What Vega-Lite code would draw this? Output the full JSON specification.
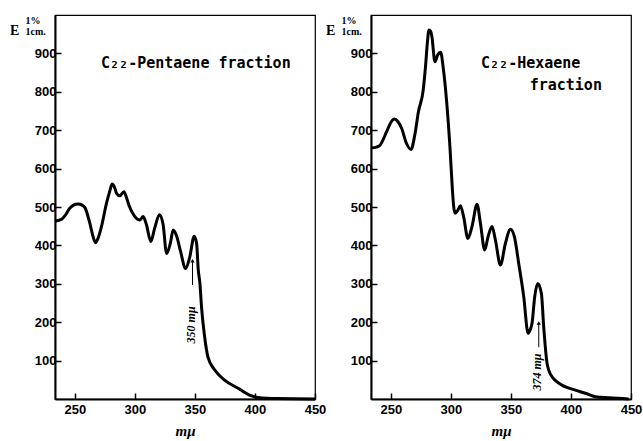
{
  "$schema": "https://vega.github.io/schema/vega-lite/v6.json",
  "autosize": {"type": "pad"},
  "padding": {"left": 9, "top": 14, "right": 2, "bottom": 2},
  "background": "white",
  "bounds": "flush",
  "spacing": 56,
  "datasets": {
    "pent": [
      {"x": 233.5, "y": 463}, {"x": 236, "y": 465}, {"x": 239, "y": 468}, {"x": 242, "y": 478},
      {"x": 245.8, "y": 497}, {"x": 249, "y": 505}, {"x": 252.7, "y": 508}, {"x": 256, "y": 505},
      {"x": 258.3, "y": 499}, {"x": 262.5, "y": 458}, {"x": 265, "y": 425}, {"x": 267.2, "y": 407},
      {"x": 269.5, "y": 420}, {"x": 272.2, "y": 449}, {"x": 276.4, "y": 510}, {"x": 279, "y": 540},
      {"x": 281.1, "y": 560}, {"x": 283, "y": 552}, {"x": 284.7, "y": 536}, {"x": 287.5, "y": 529},
      {"x": 290.8, "y": 540}, {"x": 293, "y": 525}, {"x": 295, "y": 505}, {"x": 300, "y": 475},
      {"x": 304.2, "y": 466}, {"x": 306.9, "y": 475}, {"x": 309.7, "y": 453}, {"x": 313.3, "y": 410},
      {"x": 316.5, "y": 445}, {"x": 320.5, "y": 480}, {"x": 323.5, "y": 455}, {"x": 326.4, "y": 379},
      {"x": 329.5, "y": 405}, {"x": 331.9, "y": 440}, {"x": 334.7, "y": 425}, {"x": 338, "y": 385},
      {"x": 342.2, "y": 340}, {"x": 345.8, "y": 371}, {"x": 349.4, "y": 424}, {"x": 351.4, "y": 405},
      {"x": 352.8, "y": 336}, {"x": 354.2, "y": 300}, {"x": 355.5, "y": 240}, {"x": 358.1, "y": 162},
      {"x": 360.8, "y": 110}, {"x": 366.4, "y": 76}, {"x": 374.7, "y": 49}, {"x": 386, "y": 28},
      {"x": 395.5, "y": 10}, {"x": 402.5, "y": 4}, {"x": 419, "y": 1}, {"x": 450, "y": 0}
    ],
    "hex": [
      {"x": 234, "y": 654}, {"x": 238, "y": 656}, {"x": 241, "y": 661}, {"x": 246.5, "y": 696},
      {"x": 250, "y": 720}, {"x": 253, "y": 729}, {"x": 256, "y": 722}, {"x": 259, "y": 705},
      {"x": 263, "y": 666}, {"x": 266.8, "y": 650}, {"x": 270, "y": 688}, {"x": 273, "y": 748},
      {"x": 277, "y": 805}, {"x": 279, "y": 870}, {"x": 280.5, "y": 930}, {"x": 281.8, "y": 961},
      {"x": 283, "y": 958}, {"x": 284, "y": 948}, {"x": 286.8, "y": 878}, {"x": 289, "y": 896},
      {"x": 291.5, "y": 903}, {"x": 293.7, "y": 861}, {"x": 296.5, "y": 774}, {"x": 299.3, "y": 653},
      {"x": 301.2, "y": 549}, {"x": 302.5, "y": 497}, {"x": 303.7, "y": 484}, {"x": 305.5, "y": 490},
      {"x": 307.9, "y": 503}, {"x": 310.6, "y": 475}, {"x": 314.2, "y": 418}, {"x": 317.6, "y": 449},
      {"x": 321.8, "y": 507}, {"x": 324.6, "y": 458}, {"x": 328.2, "y": 388}, {"x": 331, "y": 423},
      {"x": 334.3, "y": 449}, {"x": 337.1, "y": 414}, {"x": 341.3, "y": 349}, {"x": 345.4, "y": 405},
      {"x": 349.6, "y": 442}, {"x": 352.9, "y": 423}, {"x": 356.5, "y": 353}, {"x": 360.7, "y": 266},
      {"x": 364.3, "y": 171}, {"x": 366, "y": 180}, {"x": 367.6, "y": 197}, {"x": 369.8, "y": 266},
      {"x": 372.3, "y": 301}, {"x": 375.4, "y": 275}, {"x": 377.3, "y": 188}, {"x": 380.1, "y": 93},
      {"x": 381.5, "y": 75}, {"x": 385, "y": 55}, {"x": 390, "y": 41}, {"x": 403.7, "y": 23},
      {"x": 412, "y": 15}, {"x": 420.4, "y": 6}, {"x": 432, "y": 3}, {"x": 448, "y": 0}
    ]
  },
  "config": {
    "view": {"stroke": "black", "strokeWidth": 1.2},
    "axis": {
      "grid": false,
      "domainColor": "black",
      "domainWidth": 2,
      "tickColor": "black",
      "tickWidth": 1.5,
      "tickSize": -6,
      "labelFont": "Liberation Sans",
      "labelFontWeight": "bold",
      "labelFontSize": 13,
      "labelColor": "black",
      "labelFlush": false,
      "labelOverlap": false,
      "titleColor": "black"
    },
    "title": {"color": "black"}
  },
  "hconcat": [
    {
      "width": 260,
      "height": 384,
      "title": {"text": "E", "anchor": "start", "frame": "group", "dx": -45, "dy": 34, "offset": 0, "fontSize": 14, "font": "Liberation Serif", "fontWeight": "bold", "baseline": "alphabetic"},
      "layer": [
        {
          "data": {"name": "pent"},
          "mark": {"type": "line", "color": "black", "strokeWidth": 3, "interpolate": "monotone"},
          "encoding": {
            "x": {"field": "x", "type": "quantitative", "scale": {"domain": [233.5, 450], "nice": false, "zero": false},
              "axis": {"values": [250, 300, 350, 400, 450], "labelPadding": 10, "title": "mμ", "titleFont": "Liberation Serif", "titleFontSize": 15, "titleFontWeight": "bold", "titleFontStyle": "italic", "titlePadding": 7}},
            "y": {"field": "y", "type": "quantitative", "scale": {"domain": [0, 1000], "nice": false},
              "axis": {"values": [100, 200, 300, 400, 500, 600, 700, 800, 900], "labelPadding": 5, "title": ["1%", "1cm."], "titleAngle": 0, "titleAlign": "left", "titleBaseline": "top", "titleX": -30, "titleY": 0, "titleFontSize": 10, "titleFont": "Liberation Serif", "titleFontWeight": "bold", "titleLineHeight": 11}}
          }
        },
        {
          "data": {"values": [{"x": 350.8, "y": 875, "label": "C₂₂-Pentaene fraction"}]},
          "mark": {"type": "text", "font": "DejaVu Sans Mono", "fontWeight": "bold", "fontSize": 15, "color": "black"},
          "encoding": {"x": {"field": "x", "type": "quantitative"}, "y": {"field": "y", "type": "quantitative"}, "text": {"field": "label"}}
        },
        {
          "data": {"values": [{"x": 346.5, "y": 193, "label": "350 mμ"}]},
          "mark": {"type": "text", "font": "Liberation Serif", "fontStyle": "italic", "fontWeight": "bold", "fontSize": 12, "angle": 270, "color": "black"},
          "encoding": {"x": {"field": "x", "type": "quantitative"}, "y": {"field": "y", "type": "quantitative"}, "text": {"field": "label"}}
        },
        {
          "data": {"values": [{"x": 348, "y": 297, "y2": 360}]},
          "mark": {"type": "rule", "color": "black", "strokeWidth": 1},
          "encoding": {"x": {"field": "x", "type": "quantitative"}, "y": {"field": "y", "type": "quantitative"}, "y2": {"field": "y2"}}
        },
        {
          "data": {"values": [{"x": 348, "y": 360}]},
          "mark": {"type": "point", "shape": "triangle-up", "filled": true, "size": 18, "color": "black", "opacity": 1},
          "encoding": {"x": {"field": "x", "type": "quantitative"}, "y": {"field": "y", "type": "quantitative"}}
        }
      ]
    },
    {
      "width": 260,
      "height": 384,
      "title": {"text": "E", "anchor": "start", "frame": "group", "dx": -45, "dy": 34, "offset": 0, "fontSize": 14, "font": "Liberation Serif", "fontWeight": "bold", "baseline": "alphabetic"},
      "layer": [
        {
          "data": {"name": "hex"},
          "mark": {"type": "line", "color": "black", "strokeWidth": 3, "interpolate": "monotone"},
          "encoding": {
            "x": {"field": "x", "type": "quantitative", "scale": {"domain": [233.5, 450], "nice": false, "zero": false},
              "axis": {"values": [250, 300, 350, 400, 450], "labelPadding": 10, "title": "mμ", "titleFont": "Liberation Serif", "titleFontSize": 15, "titleFontWeight": "bold", "titleFontStyle": "italic", "titlePadding": 7}},
            "y": {"field": "y", "type": "quantitative", "scale": {"domain": [0, 1000], "nice": false},
              "axis": {"values": [100, 200, 300, 400, 500, 600, 700, 800, 900], "labelPadding": 5, "title": ["1%", "1cm."], "titleAngle": 0, "titleAlign": "left", "titleBaseline": "top", "titleX": -30, "titleY": 0, "titleFontSize": 10, "titleFont": "Liberation Serif", "titleFontWeight": "bold", "titleLineHeight": 11}}
          }
        },
        {
          "data": {"values": [{"x": 366.5, "y": 875, "label": "C₂₂-Hexaene"}, {"x": 395.7, "y": 818, "label": "fraction"}]},
          "mark": {"type": "text", "font": "DejaVu Sans Mono", "fontWeight": "bold", "fontSize": 15, "color": "black"},
          "encoding": {"x": {"field": "x", "type": "quantitative"}, "y": {"field": "y", "type": "quantitative"}, "text": {"field": "label"}}
        },
        {
          "data": {"values": [{"x": 371.5, "y": 70, "label": "374 mμ"}]},
          "mark": {"type": "text", "font": "Liberation Serif", "fontStyle": "italic", "fontWeight": "bold", "fontSize": 12, "angle": 270, "color": "black"},
          "encoding": {"x": {"field": "x", "type": "quantitative"}, "y": {"field": "y", "type": "quantitative"}, "text": {"field": "label"}}
        },
        {
          "data": {"values": [{"x": 373.2, "y": 135, "y2": 198}]},
          "mark": {"type": "rule", "color": "black", "strokeWidth": 1},
          "encoding": {"x": {"field": "x", "type": "quantitative"}, "y": {"field": "y", "type": "quantitative"}, "y2": {"field": "y2"}}
        },
        {
          "data": {"values": [{"x": 373.2, "y": 198}]},
          "mark": {"type": "point", "shape": "triangle-up", "filled": true, "size": 18, "color": "black", "opacity": 1},
          "encoding": {"x": {"field": "x", "type": "quantitative"}, "y": {"field": "y", "type": "quantitative"}}
        }
      ]
    }
  ]
}
